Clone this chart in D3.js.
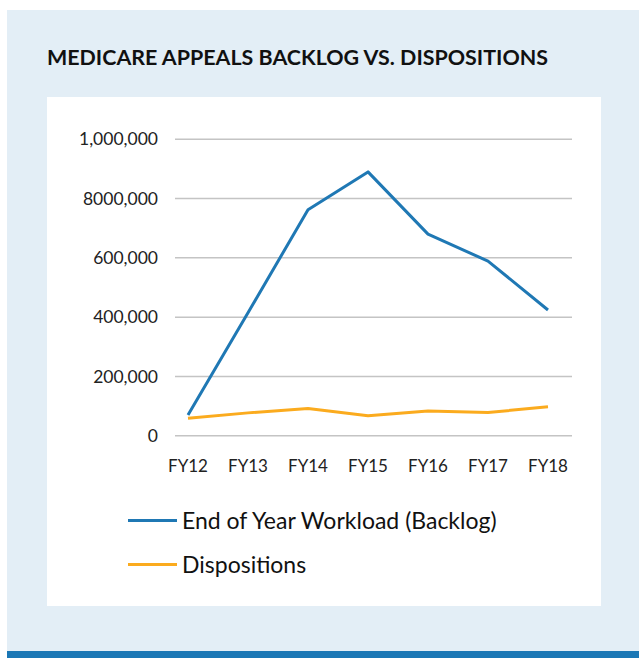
<!DOCTYPE html>
<html>
<head>
<meta charset="utf-8">
<script src="https://cdn.jsdelivr.net/npm/d3@7"></script>
<style>
  html, body { margin: 0; padding: 0; background: #fff; }
  svg { display: block; }
</style>
</head>
<body>
<div id="chart"></div>
<script>
// Medicare appeals backlog vs dispositions

const years = ["FY12", "FY13", "FY14", "FY15", "FY16", "FY17", "FY18"];
const backlog = [70000, 415000, 762000, 890000, 680000, 589000, 424000];
const dispositions = [59000, 77000, 92000, 67000, 83000, 78000, 98000];
const yTicks = [0, 200000, 400000, 600000, 800000, 1000000];
const yTickLabels = ["0", "200,000", "400,000", "600,000", "8000,000", "1,000,000"];
const seriesNames = ["End of Year Workload (Backlog)", "Dispositions"];

const width = 639, height = 658;
const font = "Lato, 'Open Sans', sans-serif";

const svg = d3.select("#chart")
    .append("svg")
    .attr("width", width)
    .attr("height", height);

// Background panels
svg.append("rect").attr("x", 7).attr("y", 10).attr("width", width - 7).attr("height", 641).attr("fill", "#e3eef6");
svg.append("rect").attr("x", 7).attr("y", 651).attr("width", width - 7).attr("height", 7).attr("fill", "#1a77b5");
svg.append("rect").attr("x", 47).attr("y", 97).attr("width", 554).attr("height", 509).attr("fill", "#fff");

svg.append("text")
    .attr("x", 47).attr("y", 65)
    .attr("textLength", 501).attr("lengthAdjust", "spacingAndGlyphs")
    .style("font-family", font).style("font-weight", "bold").style("font-size", "20px")
    .style("fill", "#111")
    .text("MEDICARE APPEALS BACKLOG VS. DISPOSITIONS");

// Scales
const x = d3.scalePoint().domain(years).range([188, 548]);
const y = d3.scaleLinear().domain([0, 1000000]).range([435.7, 139.3]);

// Gridlines
svg.append("g")
    .selectAll("line")
    .data(yTicks)
    .join("line")
    .attr("x1", 175).attr("x2", 572)
    .attr("y1", d => y(d)).attr("y2", d => y(d))
    .attr("stroke", "#c4c4c4")
    .attr("stroke-width", 1.5);

// Y tick labels
svg.append("g")
    .selectAll("text")
    .data(yTicks)
    .join("text")
    .attr("x", 158)
    .attr("y", d => y(d))
    .attr("dy", "0.35em")
    .attr("text-anchor", "end")
    .style("font-family", font).style("font-size", "17.5px").style("fill", "#222")
    .text((d, i) => yTickLabels[i]);

// X tick labels
svg.append("g")
    .selectAll("text")
    .data(years)
    .join("text")
    .attr("x", d => x(d))
    .attr("y", 472)
    .attr("text-anchor", "middle")
    .style("font-family", font).style("font-size", "17px").style("fill", "#222")
    .text(d => d);

// Lines
const line = d3.line()
    .x((d, i) => x(years[i]))
    .y(d => y(d));

const colors = ["#1f78b4", "#fbab1e"];

[backlog, dispositions].forEach((series, k) => {
    svg.append("path")
        .datum(series)
        .attr("d", line)
        .attr("fill", "none")
        .attr("stroke", colors[k])
        .attr("stroke-width", 3)
        .attr("stroke-linejoin", "round");
});

// Legend
const legend = svg.append("g")
    .selectAll("g")
    .data(seriesNames)
    .join("g")
    .attr("transform", (d, i) => `translate(128, ${520.5 + i * 44})`);

legend.append("line")
    .attr("x1", 0).attr("x2", 49)
    .attr("stroke", (d, i) => colors[i])
    .attr("stroke-width", 3);

legend.append("text")
    .attr("x", 54)
    .attr("dy", "0.35em")
    .style("font-family", font).style("font-size", "23px").style("fill", "#111")
    .text(d => d);
</script>
</body>
</html>
